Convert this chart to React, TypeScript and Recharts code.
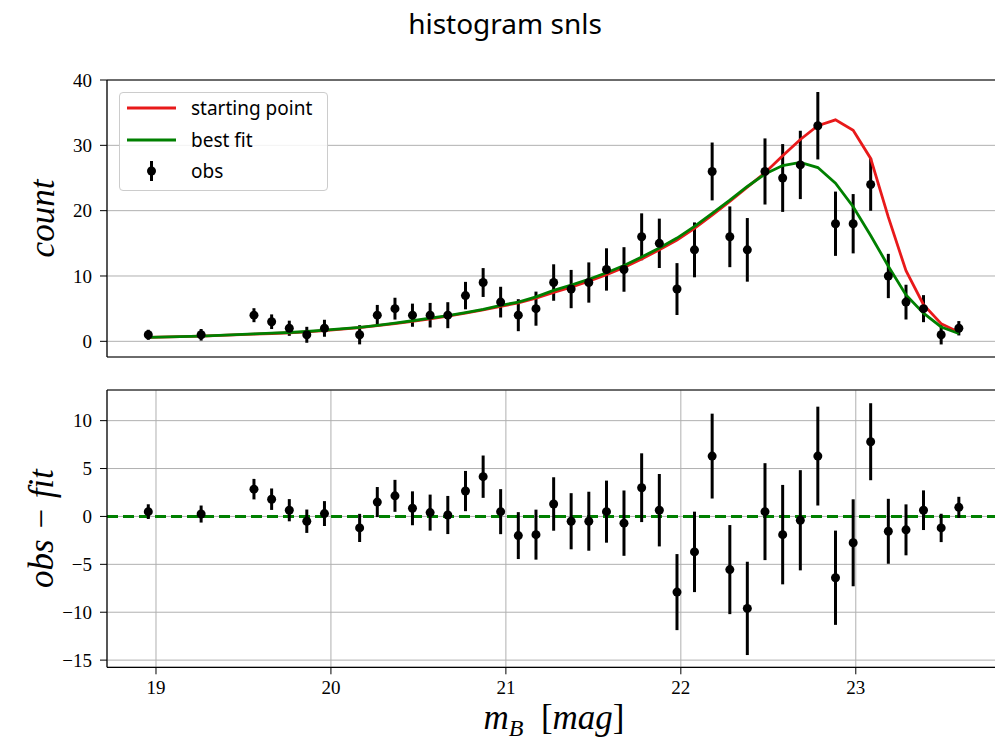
import React from 'react';
import {
  ComposedChart,
  Line,
  Scatter,
  ErrorBar,
  XAxis,
  YAxis,
  CartesianGrid,
  ReferenceLine,
  Label,
} from 'recharts';

// bin centres of the non-empty bins (mag)
const MB = [
  18.956, 19.258, 19.56, 19.661, 19.762, 19.862, 19.963, 20.164, 20.265, 20.366, 20.466,
  20.567, 20.668, 20.769, 20.87, 20.97, 21.071, 21.172, 21.273, 21.373, 21.474, 21.575,
  21.675, 21.776, 21.877, 21.978, 22.078, 22.179, 22.28, 22.38, 22.481, 22.582, 22.683,
  22.783, 22.884, 22.985, 23.085, 23.186, 23.287, 23.387, 23.488, 23.589,
];
const COUNTS = [
  1, 1, 4, 3, 2, 1, 2, 1, 4, 5, 4, 4, 4, 7, 9, 6, 4, 5, 9, 8, 9, 11, 11, 16, 15, 8, 14, 26,
  16, 14, 26, 25, 27, 33, 18, 18, 24, 10, 6, 5, 1, 2,
];
const START = [
  0.6, 0.8, 1.1, 1.2, 1.3, 1.45, 1.65, 2.1, 2.4, 2.7, 3.05, 3.45, 3.85, 4.3, 4.8, 5.35, 5.9,
  6.6, 7.5, 8.3, 9.2, 10.2, 11.3, 12.6, 14.0, 15.5, 17.3, 19.3, 21.4, 23.6, 25.8, 28.4, 30.9,
  33.0, 33.9, 32.3, 28.0, 19.0, 10.8, 5.6, 2.7, 1.4,
];
const BEST = [
  0.6, 0.8, 1.15, 1.25, 1.35, 1.5, 1.7, 2.15, 2.45, 2.8, 3.15, 3.55, 3.95, 4.4, 4.9, 5.5, 6.0,
  6.8, 7.8, 8.6, 9.5, 10.5, 11.6, 12.9, 14.3, 15.8, 17.6, 19.6, 21.6, 23.7, 25.6, 26.9, 27.4,
  26.6, 24.2, 20.6, 16.2, 11.5, 7.1, 4.3, 2.2, 1.2,
];
const RESID = [
  0.5, 0.25, 2.85, 1.8, 0.65, -0.5, 0.3, -1.2, 1.5, 2.15, 0.85, 0.4, 0.15, 2.65, 4.15, 0.5,
  -2.0, -1.9, 1.3, -0.5, -0.5, 0.5, -0.7, 3.0, 0.65, -7.9, -3.7, 6.3, -5.55, -9.6, 0.5, -1.9,
  -0.4, 6.3, -6.4, -2.75, 7.8, -1.55, -1.4, 0.65, -1.2, 0.95,
];
const ERR = [
  0.77, 0.89, 1.07, 1.12, 1.16, 1.22, 1.3, 1.47, 1.57, 1.67, 1.77, 1.88, 1.99, 2.1, 2.21,
  2.35, 2.45, 2.61, 2.79, 2.93, 3.08, 3.24, 3.41, 3.59, 3.78, 3.97, 4.2, 4.43, 4.65, 4.87,
  5.06, 5.19, 5.23, 5.16, 4.92, 4.54, 4.02, 3.39, 2.66, 2.07, 1.48, 1.1,
];

const X_TICKS = [19, 20, 21, 22, 23];
const COUNT_TICKS = [0, 10, 20, 30, 40];
const RESID_TICKS = [-15, -10, -5, 0, 5, 10];

const X_DOMAIN: [number, number] = [18.72, 23.83];
const COUNT_DOMAIN: [number, number] = [-2.4, 40];
const RESID_DOMAIN: [number, number] = [-15.75, 13.2];

const rows = MB.map((m, i) => ({
  m,
  count: COUNTS[i],
  start: START[i],
  best: BEST[i],
  resid: RESID[i],
  err: ERR[i],
}));

const RED = '#e8191a';
const GREEN = '#008000';
const GRID = '#b0b0b0';
const SERIF = '"Liberation Serif", "DejaVu Serif", serif';
const SANS = '"Noto Sans", "Open Sans", sans-serif';
const tickStyle = { fontFamily: SERIF, fontSize: 19, fill: '#000' };
const fmt = (v: number) => (v < 0 ? `\u2212${Math.abs(v)}` : `${v}`);

const CHART_W = 1100;
const RIGHT = CHART_W - 1001;

const dot = (p: any) => <circle cx={p.cx} cy={p.cy} r={4.5} fill="#000" />;

const yLabel = (text: string) => (p: any) => {
  const vb = p.viewBox || {};
  const cx = 42;
  const cy = vb.y + vb.height / 2;
  return (
    <text
      x={cx}
      y={cy}
      transform={`rotate(-90 ${cx} ${cy})`}
      textAnchor="middle"
      dominantBaseline="central"
      fontFamily={SERIF}
      fontStyle="italic"
      fontSize={35}
      fill="#000"
    >
      {text}
    </text>
  );
};

const xLabel = (p: any) => {
  const vb = p.viewBox || {};
  const cx = vb.x + vb.width / 2;
  const y = vb.y + 62;
  return (
    <text x={cx} y={y} textAnchor="middle" fontFamily={SERIF} fontSize={35} fill="#000">
      <tspan fontStyle="italic">m</tspan>
      <tspan fontStyle="italic" fontSize={24} dy={7}>B</tspan>
      <tspan dy={-7}>{'\u2002['}</tspan>
      <tspan fontStyle="italic">mag</tspan>
      <tspan>]</tspan>
    </text>
  );
};

const Legend = () => (
  <div
    style={{
      position: 'absolute',
      left: 119,
      top: 92,
      width: 207,
      height: 97,
      border: '1px solid #cccccc',
      borderRadius: 4,
      background: 'rgba(255,255,255,0.85)',
    }}
  >
    <svg width={207} height={97}>
      <line x1={7} x2={56} y1={15} y2={15} stroke={RED} strokeWidth={2.8} />
      <line x1={7} x2={56} y1={47} y2={47} stroke={GREEN} strokeWidth={2.8} />
      <line x1={31.5} x2={31.5} y1={68} y2={88} stroke="#000" strokeWidth={3} />
      <circle cx={31.5} cy={78} r={4.5} fill="#000" />
      <text x={71} y={15} dominantBaseline="central" fontFamily={SANS} fontSize={19} fill="#000">
        starting point
      </text>
      <text x={71} y={47} dominantBaseline="central" fontFamily={SANS} fontSize={19} fill="#000">
        best fit
      </text>
      <text x={71} y={78} dominantBaseline="central" fontFamily={SANS} fontSize={19} fill="#000">
        obs
      </text>
    </svg>
  </div>
);

export default function App() {
  return (
    <div
      style={{
        position: 'absolute',
        left: 0,
        top: 0,
        width: 995,
        height: 745,
        overflow: 'hidden',
        background: '#fff',
      }}
    >
      <div
        style={{
          position: 'absolute',
          left: 0,
          top: 6,
          width: 1010,
          textAlign: 'center',
          fontFamily: SANS,
          fontSize: 28,
          lineHeight: '34px',
          color: '#000',
        }}
      >
        histogram snls
      </div>

      <div style={{ position: 'absolute', left: 0, top: 0 }}>
        <ComposedChart
          width={CHART_W}
          height={372}
          data={rows}
          margin={{ top: 80, right: RIGHT, bottom: 0, left: 0 }}
        >
          <CartesianGrid stroke={GRID} strokeWidth={1} />
          <XAxis
            dataKey="m"
            type="number"
            domain={X_DOMAIN}
            ticks={X_TICKS}
            allowDataOverflow
            height={15}
            tick={false}
            tickSize={7}
            axisLine={{ stroke: '#000', strokeWidth: 1.2 }}
            tickLine={{ stroke: '#000' }}
          />
          <YAxis
            type="number"
            domain={COUNT_DOMAIN}
            ticks={COUNT_TICKS}
            allowDataOverflow
            width={107}
            tickSize={7}
            tickMargin={8}
            tick={tickStyle}
            tickFormatter={fmt}
            axisLine={{ stroke: '#000', strokeWidth: 1.2 }}
            tickLine={{ stroke: '#000' }}
          >
            <Label content={yLabel('count')} />
          </YAxis>
          <ReferenceLine y={COUNT_DOMAIN[1]} stroke="#000" strokeWidth={1.2} />
          <Scatter data={rows} dataKey="count" shape={dot} isAnimationActive={false}>
            <ErrorBar dataKey="err" direction="y" width={0} stroke="#000" strokeWidth={3} />
          </Scatter>
          <Line
            type="linear"
            dataKey="start"
            stroke={RED}
            strokeWidth={2.8}
            dot={false}
            activeDot={false}
            isAnimationActive={false}
          />
          <Line
            type="linear"
            dataKey="best"
            stroke={GREEN}
            strokeWidth={2.8}
            dot={false}
            activeDot={false}
            isAnimationActive={false}
          />
        </ComposedChart>
      </div>

      <div style={{ position: 'absolute', left: 0, top: 380 }}>
        <ComposedChart
          width={CHART_W}
          height={368}
          data={rows}
          margin={{ top: 10, right: RIGHT, bottom: 0, left: 0 }}
        >
          <CartesianGrid stroke={GRID} strokeWidth={1} />
          <XAxis
            dataKey="m"
            type="number"
            domain={X_DOMAIN}
            ticks={X_TICKS}
            allowDataOverflow
            height={80.7}
            tickSize={7}
            tickMargin={6}
            tick={tickStyle}
            axisLine={{ stroke: '#000', strokeWidth: 1.2 }}
            tickLine={{ stroke: '#000' }}
          >
            <Label content={xLabel} />
          </XAxis>
          <YAxis
            type="number"
            domain={RESID_DOMAIN}
            ticks={RESID_TICKS}
            allowDataOverflow
            width={107}
            tickSize={7}
            tickMargin={8}
            tick={tickStyle}
            tickFormatter={fmt}
            axisLine={{ stroke: '#000', strokeWidth: 1.2 }}
            tickLine={{ stroke: '#000' }}
          >
            <Label content={yLabel('obs \u2212 fit')} />
          </YAxis>
          <ReferenceLine y={RESID_DOMAIN[1]} stroke="#000" strokeWidth={1.2} />
          <ReferenceLine y={0} stroke={GREEN} strokeWidth={3} strokeDasharray="11 5" />
          <Scatter data={rows} dataKey="resid" shape={dot} isAnimationActive={false}>
            <ErrorBar dataKey="err" direction="y" width={0} stroke="#000" strokeWidth={3} />
          </Scatter>
        </ComposedChart>
      </div>

      <Legend />
    </div>
  );
}
